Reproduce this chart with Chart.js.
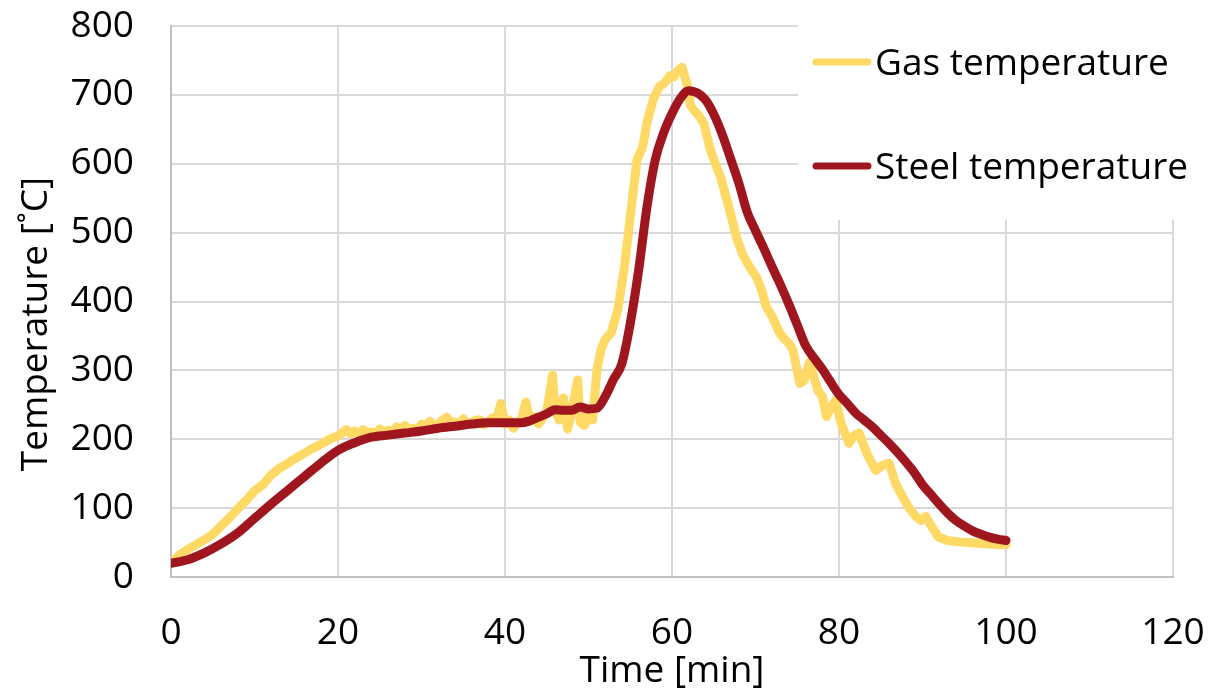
<!DOCTYPE html>
<html>
<head>
<meta charset="utf-8">
<script src="https://cdn.jsdelivr.net/npm/chart.js@4.4.1/dist/chart.umd.min.js"></script>
<style>
  html, body { margin: 0; padding: 0; background: #fff; }
  #wrap { width: 1210px; height: 692px; }
</style>
</head>
<body>
<div id="wrap"><canvas id="tempChart"></canvas></div>
<script>
// values (time in min, temperature in °C)
const gasTime = [0, 1, 2, 3, 4, 5, 6, 7, 8, 9, 10, 11, 12, 13, 14, 15, 16, 17, 18, 19, 20,
    21, 21.5, 22, 22.5, 23, 23.5, 24, 24.5, 25, 25.5, 26, 26.5, 27, 27.5, 28, 28.5, 29, 29.5, 30,
    30.5, 31, 31.5, 32, 32.5, 33, 33.5, 34, 34.5, 35, 35.5, 36, 36.5, 37, 37.5, 38, 38.5, 39, 39.5, 40,
    40.5, 41, 41.5, 42, 42.5, 43, 43.5, 44, 44.5, 45, 45.7, 46, 46.5, 47, 47.5, 48, 48.7, 49, 49.5, 50,
    50.5, 51, 51.5, 52, 52.7, 53.5, 54.3, 55, 55.8, 56.5, 57, 57.8, 58.5, 59, 59.8, 60.2, 60.7, 61.2,
    61.8, 62.2, 62.6, 63.2, 63.8, 64.6, 65.2, 65.8, 66.4, 66.9, 67.7, 68.5, 69.3, 70.1, 70.7, 71.3, 72,
    72.9, 73.5, 74.1, 74.5, 75.3, 75.8, 76.5, 77, 77.5, 78, 78.5, 79, 79.6, 80.2, 81.2, 81.8, 82.4, 83,
    83.5, 84.4, 85.2, 86, 86.8, 87.6, 88.4, 89.2, 89.8, 90.4, 91, 91.9, 93, 94.3, 95.5, 96.7, 98, 99, 100];
const gasTemp = [20, 32, 40, 47, 54, 62, 74, 86, 99, 111, 125, 134, 148, 158, 165, 173, 180, 187, 193, 200, 205,
    214, 208, 212, 207, 214, 209, 211, 206, 215, 210, 213, 208, 218, 213, 220, 215, 216, 212, 222,
    217, 226, 220, 221, 228, 232, 224, 225, 219, 230, 223, 224, 228, 228, 221, 226, 231, 230, 252, 222,
    228, 216, 224, 230, 254, 226, 233, 222, 230, 240, 293, 240, 228, 260, 215, 240, 286, 225, 220, 235,
    228, 300, 330, 345, 354, 387, 450, 523, 605, 625, 660, 695, 712, 716, 728, 726, 735, 740,
    715, 685, 678, 670, 659, 620, 600, 581, 555, 533, 494, 467, 450, 436, 418, 392, 378,
    354, 345, 338, 329, 281, 285, 312, 290, 270, 262, 233, 245, 257, 225, 194, 205, 209, 190,
    175, 155, 162, 165, 135, 117, 100, 88, 82, 88, 75, 58, 53, 51, 50, 49, 48, 47, 47];

const steelTime = [0, 2, 4, 6, 8, 10, 12, 14, 16, 18, 20, 22, 24, 26, 28, 30, 32, 34, 36, 38, 40,
    42, 43, 44, 45, 46, 47, 48, 49, 50, 51, 52, 53, 54, 55, 56, 57, 58, 59, 60, 61, 62, 63, 64, 65,
    66, 67, 68, 69, 70, 71, 72, 73, 74, 75, 76, 77, 78, 79, 80, 81, 82, 83, 84, 85, 86, 87, 88, 89,
    90, 91, 92, 93, 94, 95, 96, 97, 98, 99, 100];
const steelTemp = [20, 25, 35, 48, 64, 85, 106, 126, 146, 166, 184, 195, 203, 206, 209, 212, 216, 219, 222, 224, 224,
    224, 227, 232, 237, 243, 242, 242, 247, 244, 245, 262, 287, 310, 368, 445, 537, 606, 645, 673, 695, 706, 703, 693, 672,
    643, 608, 572, 530, 503, 477, 450, 424, 396, 366, 336, 318, 302, 283, 265, 252, 238, 228, 218, 206, 194, 181, 167, 152,
    134, 120, 106, 93, 82, 74, 67, 62, 58, 55, 53];

const xTicks = [0, 20, 40, 60, 80, 100, 120];
const yTicks = [0, 100, 200, 300, 400, 500, 600, 700, 800];

const seriesNames = ['Gas temperature', 'Steel temperature'];
const gasColor = '#FFD966';
const steelColor = '#A0161E';

const fontFamily = '"Open Sans", "Noto Sans", sans-serif';

function toPoints(xs, ys) {
    return xs.map((x, i) => ({ x: x, y: ys[i] }));
}

// legend box sitting on top of the plot, like the original
const boxLegend = {
    id: 'boxLegend',
    afterDraw(chart) {
        const ctx = chart.ctx;
        ctx.save();
        ctx.fillStyle = '#fff';
        ctx.fillRect(798, 0, 412, 220);
        const items = [
            { label: seriesNames[0], color: gasColor, y: 62 },
            { label: seriesNames[1], color: steelColor, y: 166 }
        ];
        ctx.font = '37px ' + fontFamily;
        ctx.textBaseline = 'middle';
        ctx.lineCap = 'round';
        items.forEach(it => {
            ctx.strokeStyle = it.color;
            ctx.lineWidth = 7;
            ctx.beginPath();
            ctx.moveTo(816, it.y);
            ctx.lineTo(868, it.y);
            ctx.stroke();
            ctx.fillStyle = '#000';
            ctx.fillText(it.label, 875, it.y + 2);
        });
        ctx.restore();
    }
};

// rotated y axis title
const yTitle = {
    id: 'yTitle',
    afterDraw(chart) {
        const ctx = chart.ctx;
        ctx.save();
        ctx.translate(36, 324);
        ctx.rotate(-Math.PI / 2);
        ctx.font = '37px ' + fontFamily;
        ctx.fillStyle = '#000';
        ctx.textAlign = 'center';
        ctx.textBaseline = 'middle';
        ctx.fillText('Temperature [˚C]', 0, 0);
        ctx.restore();
    }
};

const ctx = document.getElementById('tempChart').getContext('2d');
new Chart(ctx, {
    type: 'line',
    data: {
        datasets: [{
            label: seriesNames[0],
            data: toPoints(gasTime, gasTemp),
            borderColor: gasColor,
            backgroundColor: gasColor,
            borderWidth: 9,
            pointRadius: 0,
            tension: 0,
            borderJoinStyle: 'round',
            borderCapStyle: 'round',
            order: 2
        }, {
            label: seriesNames[1],
            data: toPoints(steelTime, steelTemp),
            borderColor: steelColor,
            backgroundColor: steelColor,
            borderWidth: 9,
            pointRadius: 0,
            cubicInterpolationMode: 'monotone',
            borderJoinStyle: 'round',
            borderCapStyle: 'round',
            order: 1
        }]
    },
    options: {
        responsive: true,
        maintainAspectRatio: false,
        animation: false,
        layout: {
            padding: { top: 26, right: 37, left: 0, bottom: 0 }
        },
        plugins: {
            legend: { display: false },
            tooltip: { enabled: false }
        },
        scales: {
            x: {
                type: 'linear',
                min: 0,
                max: 120,
                afterBuildTicks: function(scale) {
                    scale.ticks = xTicks.map(v => ({ value: v }));
                },
                afterFit: function(scale) {
                    scale.height = 115;
                    scale.paddingLeft = 0;
                    scale.paddingRight = 0;
                },
                grid: { color: '#d9d9d9', lineWidth: 2, drawTicks: false },
                border: { color: '#bfbfbf', width: 2 },
                ticks: {
                    padding: 34,
                    color: '#000',
                    maxRotation: 0,
                    font: { size: 37, family: fontFamily }
                },
                title: {
                    display: true,
                    text: 'Time [min]',
                    color: '#000',
                    padding: { top: 0, bottom: 0 },
                    font: { size: 37, family: fontFamily, lineHeight: 1.1 }
                }
            },
            y: {
                min: 0,
                max: 800,
                afterBuildTicks: function(scale) {
                    scale.ticks = yTicks.map(v => ({ value: v }));
                },
                afterFit: function(scale) {
                    scale.width = 171;
                    scale.paddingTop = 0;
                    scale.paddingBottom = 0;
                },
                grid: { color: '#d9d9d9', lineWidth: 2, drawTicks: false },
                border: { color: '#bfbfbf', width: 2 },
                ticks: {
                    padding: 37,
                    color: '#000',
                    font: { size: 37, family: fontFamily }
                }
            }
        }
    },
    plugins: [boxLegend, yTitle]
});
</script>
</body>
</html>
